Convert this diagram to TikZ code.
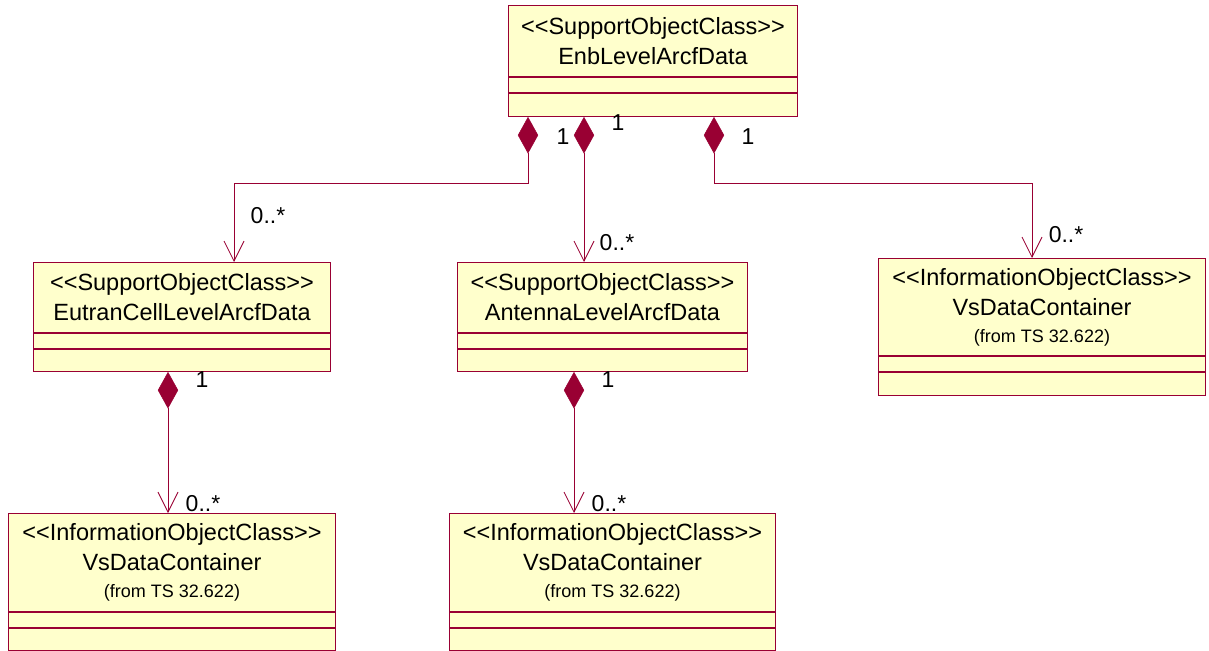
\documentclass[tikz,border=0pt]{standalone}
\usepackage{fontspec}
\setmainfont{Liberation Sans}
\usetikzlibrary{arrows.meta,shapes.geometric}
\definecolor{umlred}{RGB}{153,0,51}
\definecolor{umlfill}{RGB}{255,255,204}
\tikzset{
  cls/.style={draw=umlred,fill=umlfill,line width=1pt,inner sep=0pt,align=center,
    anchor=north west,font=\fontsize{23.5}{30}\selectfont},
  part/.style={draw=umlred,fill=umlfill,line width=1pt,inner sep=0pt,anchor=north},
  compdiamond/.style={diamond,draw=umlred,fill=umlred,inner sep=0pt,
    minimum width=20pt,minimum height=36pt,anchor=north},
  assoc/.style={draw=umlred,line width=0.8pt,-{Straight Barb[length=20pt,width=20pt]}},
  mult/.style={font=\fontsize{23}{28}\selectfont}
}
\newcommand{\fromts}{{\fontsize{18}{20}\selectfont(from TS 32.622)}}
\begin{document}
\begin{tikzpicture}[x=1pt,y=-1pt]
  \useasboundingbox (0,0) rectangle (1209,650);
  % classes
  \node[cls,minimum width=289pt,minimum height=71pt] (enb) at (508,5)
    {<{}<SupportObjectClass>{}>\\EnbLevelArcfData};
  \node[part,minimum width=289pt,minimum height=15pt] (enbA) at (enb.south) {};
  \node[part,minimum width=289pt,minimum height=23pt] (enbO) at (enbA.south) {};
  \node[cls,minimum width=297pt,minimum height=70pt] (eutran) at (33,262)
    {<{}<SupportObjectClass>{}>\\EutranCellLevelArcfData};
  \node[part,minimum width=297pt,minimum height=15pt] (eutranA) at (eutran.south) {};
  \node[part,minimum width=297pt,minimum height=22pt] (eutranO) at (eutranA.south) {};
  \node[cls,minimum width=290pt,minimum height=70pt] (antenna) at (457,262)
    {<{}<SupportObjectClass>{}>\\AntennaLevelArcfData};
  \node[part,minimum width=290pt,minimum height=15pt] (antennaA) at (antenna.south) {};
  \node[part,minimum width=290pt,minimum height=22pt] (antennaO) at (antennaA.south) {};
  \node[cls,minimum width=327pt,minimum height=97pt] (vsR) at (878,258)
    {<{}<InformationObjectClass>{}>\\VsDataContainer\\[-3pt]\fromts};
  \node[part,minimum width=327pt,minimum height=15pt] (vsRA) at (vsR.south) {};
  \node[part,minimum width=327pt,minimum height=23pt] (vsRO) at (vsRA.south) {};
  \node[cls,minimum width=327pt,minimum height=98pt] (vsL) at (8,513)
    {<{}<InformationObjectClass>{}>\\VsDataContainer\\[-3pt]\fromts};
  \node[part,minimum width=327pt,minimum height=15pt] (vsLA) at (vsL.south) {};
  \node[part,minimum width=327pt,minimum height=21.5pt] (vsLO) at (vsLA.south) {};
  \node[cls,minimum width=326pt,minimum height=98pt] (vsM) at (449,513)
    {<{}<InformationObjectClass>{}>\\VsDataContainer\\[-3pt]\fromts};
  \node[part,minimum width=326pt,minimum height=15pt] (vsMA) at (vsM.south) {};
  \node[part,minimum width=326pt,minimum height=21.5pt] (vsMO) at (vsMA.south) {};
  % composition diamonds
  \node[compdiamond] (d1) at ([xshift=20pt]enbO.south west) {};
  \node[compdiamond] (d2) at ([xshift=76pt]enbO.south west) {};
  \node[compdiamond] (d3) at ([xshift=206pt]enbO.south west) {};
  \node[compdiamond] (d4) at ([xshift=135pt]eutranO.south west) {};
  \node[compdiamond] (d5) at ([xshift=117pt]antennaO.south west) {};
  \coordinate (e1) at ([xshift=201pt]eutran.north west);
  \coordinate (e3) at ([xshift=154pt]vsR.north west);
  % associations
  \draw[assoc] (d1.south) -- (d1.south |- 0,183) -| (e1);
  \draw[assoc] (d2.south) -- (d2.south |- antenna.north);
  \draw[assoc] (d3.south) -- (d3.south |- 0,183) -| (e3);
  \draw[assoc] (d4.south) -- (d4.south |- vsL.north);
  \draw[assoc] (d5.south) -- (d5.south |- vsM.north);
  % multiplicities
  \node[mult] (m1) at (563,137) {1};
  \node[mult] (m2) at (618,123) {1};
  \node[mult] (m3) at (748,137) {1};
  \node[mult] (m4) at (202,380) {1};
  \node[mult] (m5) at (608,380) {1};
  \node[mult] (n1) at (268,216) {0..*};
  \node[mult] (n2) at (617,243) {0..*};
  \node[mult] (n3) at (1066,235) {0..*};
  \node[mult] (n4) at (203,504) {0..*};
  \node[mult] (n5) at (609,504) {0..*};
\end{tikzpicture}
\end{document}
